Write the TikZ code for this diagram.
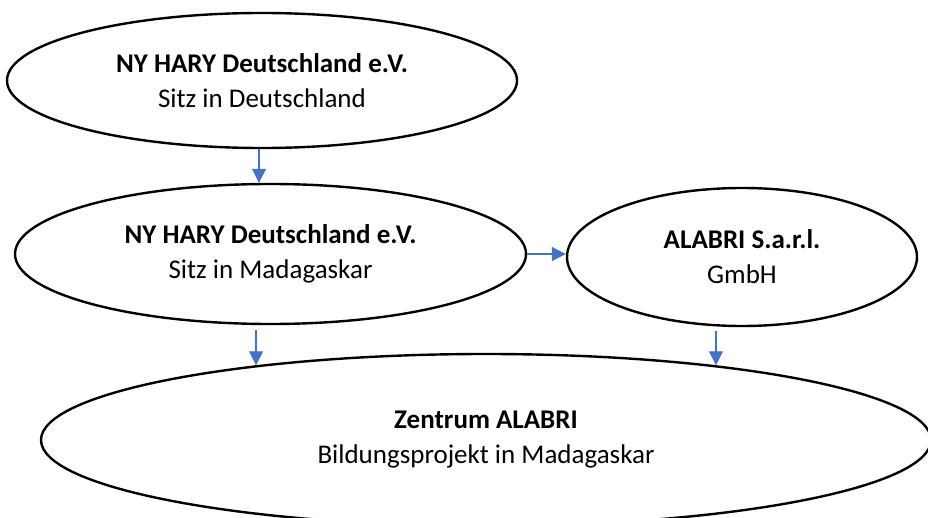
\documentclass[tikz,border=0pt]{standalone}
\usepackage{fontspec}
\setmainfont{Carlito}
\usepackage{xcolor}
\usetikzlibrary{shapes.geometric}
\usetikzlibrary{arrows.meta}
\usetikzlibrary{calc}
\definecolor{linkblue}{HTML}{4472C4}
\tikzset{oval/.style={ellipse,draw=black,line width=2.4pt,inner sep=0pt,align=center,
   font=\fontsize{27}{35}\selectfont},
 link/.style={draw=linkblue,line width=1.1pt,-{Triangle[length=14pt,width=14pt]}},
 }

\begin{document}
\begin{tikzpicture}[x=1pt,y=-1pt]
        \useasboundingbox (0,0) rectangle (928,518);
        \node[oval,minimum width=510pt,minimum height=135pt] (verein) at (262,80.5)
            {\textbf{NY HARY Deutschland e.V.}\\Sitz in Deutschland};
        \node[oval,minimum width=511pt,minimum height=140pt] (madag) at (270.5,254)
            {\textbf{NY HARY Deutschland e.V.}\\Sitz in Madagaskar};
        \node[oval,minimum width=350pt,minimum height=138pt] (sarl) at (742,257)
            {\textbf{ALABRI S.a.r.l.}\\GmbH};
        \node[oval,minimum width=890pt,minimum height=172pt] (zentrum) at (486,440)
            {\textbf{Zentrum ALABRI}\\Bildungsprojekt in Madagaskar};
        % arrows
        \coordinate (left) at (zentrum.162);
        \coordinate (right) at (zentrum.18);
        \draw[link] ([xshift=-3pt]verein.south) -- ([xshift=-3pt]verein.south |- madag.north);
        \draw[link] (madag.east) -- (madag.east -| sarl.west);
        \draw[link] ($(left |- madag.south)+(0,5)$) -- (left);
        \draw[link] ($(right |- sarl.south)+(0,4)$) -- (right);
    \end{tikzpicture}
\end{document}
